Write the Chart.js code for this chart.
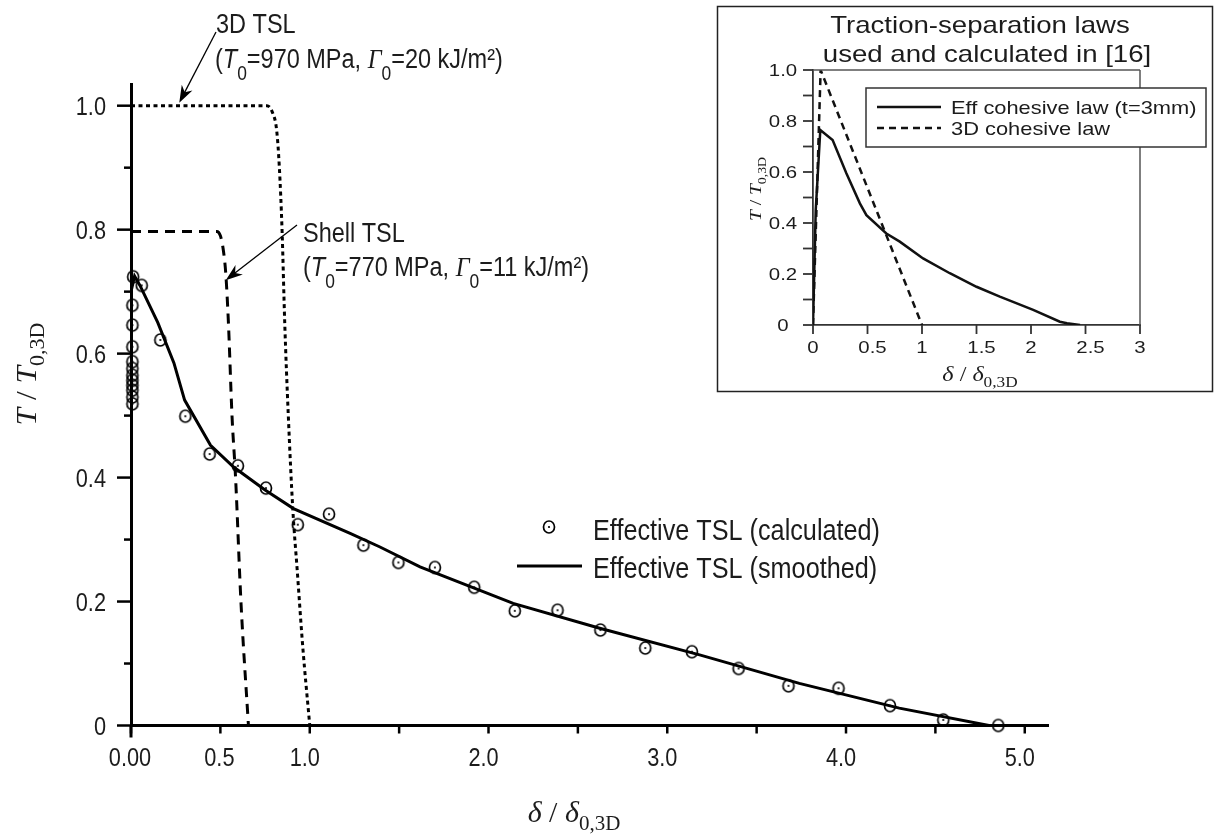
<!DOCTYPE html>
<html>
<head>
<meta charset="utf-8">
<title>Effective traction-separation law</title>
<script src="https://cdn.jsdelivr.net/npm/chart.js@4.4.1/dist/chart.umd.min.js"></script>
<style>
  html, body { margin: 0; padding: 0; background: #fff; }
  #wrap { position: relative; width: 1218px; height: 834px; }
  #wrap canvas { position: absolute; left: 0; top: 0; }
</style>
</head>
<body>
<div id="wrap">
  <canvas id="mainChart" width="1218" height="834"></canvas>
  <canvas id="insetChart" width="1218" height="834"></canvas>
</div>
<script>
// ---------- main plot: effective TSL vs. 3D / shell TSL ----------
const calcX = [0.008, 0.008, 0.008, 0.008, 0.008, 0.008, 0.008, 0.008, 0.008, 0.008, 0.008,
               0.012, 0.06, 0.164, 0.304, 0.44, 0.598, 0.755, 0.933, 1.108, 1.30, 1.496,
               1.70, 1.92, 2.147, 2.386, 2.626, 2.877, 3.138, 3.399, 3.678, 3.958, 4.246, 4.544, 4.852];
const calcY = [0.519, 0.530, 0.541, 0.549, 0.557, 0.565, 0.576, 0.587, 0.611, 0.646, 0.678,
               0.724, 0.71, 0.622, 0.499, 0.438, 0.419, 0.383, 0.324, 0.341, 0.291, 0.263,
               0.255, 0.223, 0.185, 0.186, 0.154, 0.125, 0.119, 0.092, 0.064, 0.060, 0.032, 0.009, 0.0];

const smoothX = [0, 0.02, 0.05, 0.15, 0.24, 0.30, 0.445, 0.574, 0.75, 0.909, 1.226, 1.393,
                 1.617, 2.138, 2.622, 3.181, 3.739, 4.298, 4.80];
const smoothY = [0.70, 0.725, 0.71, 0.65, 0.585, 0.525, 0.452, 0.417, 0.38, 0.350, 0.31, 0.288,
                 0.256, 0.197, 0.157, 0.114, 0.068, 0.028, 0];

const tsl3dX = [0, 0.76, 0.79, 0.815, 0.83, 0.845, 0.86, 0.88, 0.905, 0.93, 0.96, 1.0];
const tsl3dY = [1, 1, 0.99, 0.96, 0.90, 0.80, 0.65, 0.50, 0.35, 0.25, 0.13, 0];

const shellX = [0, 0.48, 0.50, 0.515, 0.53, 0.545, 0.565, 0.585, 0.615, 0.657];
const shellY = [0.797, 0.797, 0.79, 0.77, 0.73, 0.65, 0.50, 0.40, 0.2, 0];

const mainXTicks = [0, 0.5, 1, 1.5, 2, 2.5, 3, 3.5, 4, 4.5, 5];
const mainXLabels = ['0.00', '0.5', '1.0', '', '2.0', '', '3.0', '', '4.0', '', '5.0'];
const mainYTicks = [0, 0.1, 0.2, 0.3, 0.4, 0.5, 0.6, 0.7, 0.8, 0.9, 1.0];
const mainYLabels = ['0', '', '0.2', '', '0.4', '', '0.6', '', '0.8', '', '1.0'];

// ---------- inset: laws used and calculated in [16] ----------
const insetEffX = [0, 0.025, 0.067, 0.18, 0.306, 0.43, 0.49, 0.673, 0.796, 1.01, 1.255, 1.5,
                   1.714, 2.02, 2.265, 2.33, 2.45];
const insetEffY = [0, 0.45, 0.765, 0.725, 0.595, 0.477, 0.431, 0.359, 0.327, 0.261, 0.203, 0.150,
                   0.111, 0.059, 0.013, 0.007, 0];
const inset3dX = [0, 0.07, 1.0];
const inset3dY = [0, 1.0, 0];

const insetXTicks = [0, 0.5, 1, 1.5, 2, 2.5, 3];
const insetXLabels = ['0', '0.5', '1', '1.5', '2', '2.5', '3'];
const insetYTicks = [0, 0.1, 0.2, 0.3, 0.4, 0.5, 0.6, 0.7, 0.8, 0.9, 1.0];
const insetYLabels = ['0', '', '0.2', '', '0.4', '', '0.6', '', '0.8', '', '1.0'];

// ---------- drawing helpers ----------
const INK = '#1c1c1c';
const CONDENSE = 0.87;   // main figure text is set narrow
const WIDEN = 1.15;      // inset text is set wide

const sans = (px, style) => (style ? style + ' ' : '') + px + 'px "Liberation Sans", Arial, sans-serif';
const serif = (px, style) => (style ? style + ' ' : '') + px + 'px "Liberation Serif", "Times New Roman", serif';

const pairs = (xs, ys) => xs.map((x, i) => ({ x: x, y: ys[i] }));

// draw a run of differently styled text pieces on one baseline
function putRuns(ctx, runs, x, y, sx, align) {
    ctx.save();
    let total = 0;
    const widths = runs.map(r => {
        ctx.font = r.font;
        const w = ctx.measureText(r.t).width;
        total += w;
        return w;
    });
    let x0 = x;
    if (align === 'center') x0 = x - total * sx / 2;
    else if (align === 'right') x0 = x - total * sx;
    ctx.translate(x0, y);
    ctx.scale(sx, 1);
    ctx.textAlign = 'left';
    ctx.textBaseline = 'alphabetic';
    let cx = 0;
    runs.forEach((r, i) => {
        ctx.font = r.font;
        ctx.fillText(r.t, cx, r.dy || 0);
        cx += widths[i];
    });
    ctx.restore();
}

function putRunsVertical(ctx, runs, x, y, sx) {
    ctx.save();
    ctx.translate(x, y);
    ctx.rotate(-Math.PI / 2);
    putRuns(ctx, runs, 0, 0, sx, 'center');
    ctx.restore();
}

function seg(ctx, x1, y1, x2, y2) {
    ctx.beginPath();
    ctx.moveTo(x1, y1);
    ctx.lineTo(x2, y2);
    ctx.stroke();
}

function arrow(ctx, x1, y1, x2, y2) {
    const a = Math.atan2(y2 - y1, x2 - x1);
    const c = Math.cos(a), s = Math.sin(a);
    const L = 17, W = 6;
    const bx = x2 - L * c, by = y2 - L * s;
    ctx.lineWidth = 1.3;
    seg(ctx, x1, y1, x2 - 8 * c, y2 - 8 * s);
    ctx.beginPath();
    ctx.moveTo(x2, y2);
    ctx.lineTo(bx - s * W, by + c * W);
    ctx.lineTo(x2 - 0.7 * L * c, y2 - 0.7 * L * s);
    ctx.lineTo(bx + s * W, by - c * W);
    ctx.closePath();
    ctx.fill();
}

// open circle with a centre dot, used as the point style of the calculated TSL
function makeRing() {
    const c = document.createElement('canvas');
    c.width = 16;
    c.height = 16;
    const g = c.getContext('2d');
    g.strokeStyle = '#000';
    g.lineWidth = 1.7;
    g.beginPath();
    g.ellipse(8, 8, 5.5, 6.0, 0, 0, Math.PI * 2);
    g.stroke();
    g.fillStyle = '#000';
    g.beginPath();
    g.arc(8, 8, 1.1, 0, Math.PI * 2);
    g.fill();
    return c;
}
const ring = makeRing();

// ---------- main plot decorations: ticks, labels, titles, notes, legend ----------
const mainDecor = {
    id: 'mainDecor',
    afterDraw(chart) {
        const ctx = chart.ctx;
        const xs = chart.scales.x, ys = chart.scales.y;
        const area = chart.chartArea;
        ctx.save();
        ctx.strokeStyle = '#000';
        ctx.fillStyle = INK;
        ctx.lineCap = 'butt';
        ctx.lineWidth = 2.5;

        mainXTicks.forEach(v => {
            const px = xs.getPixelForValue(v);
            seg(ctx, px, area.bottom, px, area.bottom + 8);
        });
        ctx.lineWidth = 3;
        seg(ctx, area.left, area.bottom, area.left, area.bottom + 12);
        ctx.lineWidth = 2.5;
        mainYTicks.forEach((v, i) => {
            const py = ys.getPixelForValue(v);
            const len = mainYLabels[i] ? 14 : 7;
            seg(ctx, area.left - len, py, area.left, py);
        });

        mainXTicks.forEach((v, i) => {
            if (!mainXLabels[i]) return;
            const dx = v >= 1 ? -5 : -1;
            putRuns(ctx, [{ t: mainXLabels[i], font: sans(25) }],
                xs.getPixelForValue(v) + dx, area.bottom + 40, CONDENSE, 'center');
        });
        mainYTicks.forEach((v, i) => {
            if (!mainYLabels[i]) return;
            putRuns(ctx, [{ t: mainYLabels[i], font: sans(25) }],
                area.left - 25, ys.getPixelForValue(v) + 9, CONDENSE, 'right');
        });

        // axis titles
        putRuns(ctx, [
            { t: 'δ', font: serif(30, 'italic') },
            { t: ' / ', font: serif(30) },
            { t: 'δ', font: serif(30, 'italic') },
            { t: '0,3D', font: serif(21), dy: 8 }
        ], 574, 822, 1, 'center');
        putRunsVertical(ctx, [
            { t: 'T', font: serif(30, 'italic') },
            { t: ' / ', font: serif(30) },
            { t: 'T', font: serif(30, 'italic') },
            { t: '0,3D', font: serif(21), dy: 8 }
        ], 36, 374, 1.05);

        // notes on the 3D and shell laws
        putRuns(ctx, [{ t: '3D TSL', font: sans(27) }], 216, 33, CONDENSE, 'left');
        putRuns(ctx, [
            { t: '(', font: sans(27) },
            { t: 'T', font: sans(27, 'italic') },
            { t: '0', font: sans(20), dy: 12 },
            { t: '=970 MPa, ', font: sans(27) },
            { t: 'Γ', font: serif(28, 'italic') },
            { t: '0', font: sans(20), dy: 12 },
            { t: '=20 kJ/m²)', font: sans(27) }
        ], 215, 68, CONDENSE, 'left');
        putRuns(ctx, [{ t: 'Shell TSL', font: sans(27) }], 303, 242, CONDENSE, 'left');
        putRuns(ctx, [
            { t: '(', font: sans(27) },
            { t: 'T', font: sans(27, 'italic') },
            { t: '0', font: sans(20), dy: 12 },
            { t: '=770 MPa, ', font: sans(27) },
            { t: 'Γ', font: serif(28, 'italic') },
            { t: '0', font: sans(20), dy: 12 },
            { t: '=11 kJ/m²)', font: sans(27) }
        ], 303, 276, CONDENSE, 'left');

        ctx.fillStyle = '#000';
        arrow(ctx, 216, 32, xs.getPixelForValue(0.27), ys.getPixelForValue(1.0) - 3);
        arrow(ctx, 297, 225, xs.getPixelForValue(0.53), ys.getPixelForValue(0.72) + 1);

        // legend
        ctx.drawImage(ring, 549 - ring.width / 2, 527 - ring.height / 2);
        ctx.lineWidth = 3;
        seg(ctx, 517, 566, 582, 566);
        ctx.fillStyle = INK;
        putRuns(ctx, [{ t: chart.data.datasets[1].label, font: sans(29) }], 593, 540, CONDENSE, 'left');
        putRuns(ctx, [{ t: chart.data.datasets[0].label, font: sans(29) }], 593, 578, CONDENSE, 'left');
        ctx.restore();
    }
};

new Chart(document.getElementById('mainChart'), {
    type: 'scatter',
    data: {
        datasets: [
            {
                label: 'Effective TSL (smoothed)',
                data: pairs(smoothX, smoothY),
                showLine: true,
                borderColor: '#000',
                borderWidth: 3,
                pointRadius: 0,
                tension: 0
            },
            {
                label: 'Effective TSL (calculated)',
                data: pairs(calcX, calcY),
                showLine: false,
                pointStyle: ring,
                pointRadius: 6,
                clip: false
            },
            {
                label: '3D TSL',
                data: pairs(tsl3dX, tsl3dY),
                showLine: true,
                borderColor: '#000',
                borderWidth: 3,
                borderDash: [4, 3.5],
                pointRadius: 0,
                cubicInterpolationMode: 'monotone'
            },
            {
                label: 'Shell TSL',
                data: pairs(shellX, shellY),
                showLine: true,
                borderColor: '#000',
                borderWidth: 3,
                borderDash: [10, 7],
                pointRadius: 0,
                cubicInterpolationMode: 'monotone'
            }
        ]
    },
    options: {
        responsive: false,
        animation: false,
        devicePixelRatio: 1,
        layout: { padding: { left: 0, right: 170, top: 84, bottom: 0 } },
        plugins: {
            legend: { display: false },
            tooltip: { enabled: false }
        },
        scales: {
            x: {
                type: 'linear',
                min: 0,
                max: 5.13,
                grid: { display: false },
                border: { display: true, color: '#000', width: 3 },
                ticks: { display: false },
                afterFit: scale => { scale.height = 108.5; }
            },
            y: {
                type: 'linear',
                min: 0,
                max: 1.035,
                grid: { display: false },
                border: { display: true, color: '#000', width: 3 },
                ticks: { display: false },
                afterFit: scale => { scale.width = 131; }
            }
        }
    },
    plugins: [mainDecor]
});

// ---------- inset decorations ----------
const insetDecor = {
    id: 'insetDecor',
    beforeDraw(chart) {
        const ctx = chart.ctx;
        ctx.save();
        ctx.fillStyle = '#fff';
        ctx.fillRect(717, 6, 496, 386);
        ctx.strokeStyle = '#222';
        ctx.lineWidth = 1.5;
        ctx.strokeRect(717.5, 6.5, 495, 385);
        ctx.restore();
    },
    afterDraw(chart) {
        const ctx = chart.ctx;
        const xs = chart.scales.x, ys = chart.scales.y;
        const area = chart.chartArea;
        ctx.save();
        ctx.fillStyle = INK;

        // frame on top and right
        ctx.strokeStyle = '#555';
        ctx.lineWidth = 1.5;
        seg(ctx, area.left, area.top, area.right, area.top);
        seg(ctx, area.right, area.top, area.right, area.bottom);

        ctx.strokeStyle = '#333';
        ctx.lineWidth = 1.8;
        insetXTicks.forEach(v => {
            const px = xs.getPixelForValue(v);
            seg(ctx, px, area.bottom, px, area.bottom + 9);
        });
        insetYTicks.forEach(v => {
            const py = ys.getPixelForValue(v);
            seg(ctx, area.left - 10, py, area.left, py);
        });

        insetXTicks.forEach((v, i) => {
            const dx = insetXLabels[i].indexOf('.') >= 0 ? 5 : 0;
            putRuns(ctx, [{ t: insetXLabels[i], font: sans(17) }],
                xs.getPixelForValue(v) + dx, area.bottom + 28, 1.2, 'center');
        });
        insetYTicks.forEach((v, i) => {
            if (!insetYLabels[i]) return;
            putRuns(ctx, [{ t: insetYLabels[i], font: sans(17) }],
                783, ys.getPixelForValue(v) + 6, 1.2, 'center');
        });

        // title
        putRuns(ctx, [{ t: 'Traction-separation laws', font: sans(24) }], 980, 33, WIDEN, 'center');
        putRuns(ctx, [{ t: 'used and calculated in [16]', font: sans(24) }], 987, 62, WIDEN, 'center');

        // axis titles
        putRuns(ctx, [
            { t: 'δ', font: serif(21, 'italic') },
            { t: ' / ', font: serif(21) },
            { t: 'δ', font: serif(21, 'italic') },
            { t: '0,3D', font: serif(15), dy: 6 }
        ], 980, 381, WIDEN, 'center');
        putRunsVertical(ctx, [
            { t: 'T', font: serif(17, 'italic') },
            { t: ' / ', font: serif(17) },
            { t: 'T', font: serif(17, 'italic') },
            { t: '0,3D', font: serif(12), dy: 5 }
        ], 761, 189, WIDEN);

        // legend box
        ctx.fillStyle = '#fff';
        ctx.fillRect(866, 88, 340, 59);
        ctx.strokeStyle = '#333';
        ctx.lineWidth = 1.5;
        ctx.strokeRect(866, 88, 340, 59);
        ctx.strokeStyle = '#111';
        ctx.lineWidth = 2.5;
        seg(ctx, 877, 107, 941, 107);
        ctx.setLineDash([7, 5]);
        seg(ctx, 877, 128, 941, 128);
        ctx.setLineDash([]);
        ctx.fillStyle = INK;
        putRuns(ctx, [{ t: chart.data.datasets[0].label, font: sans(19) }], 951, 114, WIDEN, 'left');
        putRuns(ctx, [{ t: chart.data.datasets[1].label, font: sans(19) }], 951, 135, WIDEN, 'left');
        ctx.restore();
    }
};

new Chart(document.getElementById('insetChart'), {
    type: 'scatter',
    data: {
        datasets: [
            {
                label: 'Eff cohesive law (t=3mm)',
                data: pairs(insetEffX, insetEffY),
                showLine: true,
                borderColor: '#111',
                borderWidth: 2.5,
                pointRadius: 0,
                tension: 0
            },
            {
                label: '3D cohesive law',
                data: pairs(inset3dX, inset3dY),
                showLine: true,
                borderColor: '#111',
                borderWidth: 2.5,
                borderDash: [7, 5],
                pointRadius: 0,
                tension: 0
            }
        ]
    },
    options: {
        responsive: false,
        animation: false,
        devicePixelRatio: 1,
        layout: { padding: { left: 753, right: 78, top: 70, bottom: 469 } },
        plugins: {
            legend: { display: false },
            tooltip: { enabled: false }
        },
        scales: {
            x: {
                type: 'linear',
                min: 0,
                max: 3,
                grid: { display: false },
                border: { display: true, color: '#333', width: 1.8 },
                ticks: { display: false },
                afterFit: scale => { scale.height = 40; }
            },
            y: {
                type: 'linear',
                min: 0,
                max: 1,
                grid: { display: false },
                border: { display: true, color: '#333', width: 1.8 },
                ticks: { display: false },
                afterFit: scale => { scale.width = 60; }
            }
        }
    },
    plugins: [insetDecor]
});
</script>
</body>
</html>
